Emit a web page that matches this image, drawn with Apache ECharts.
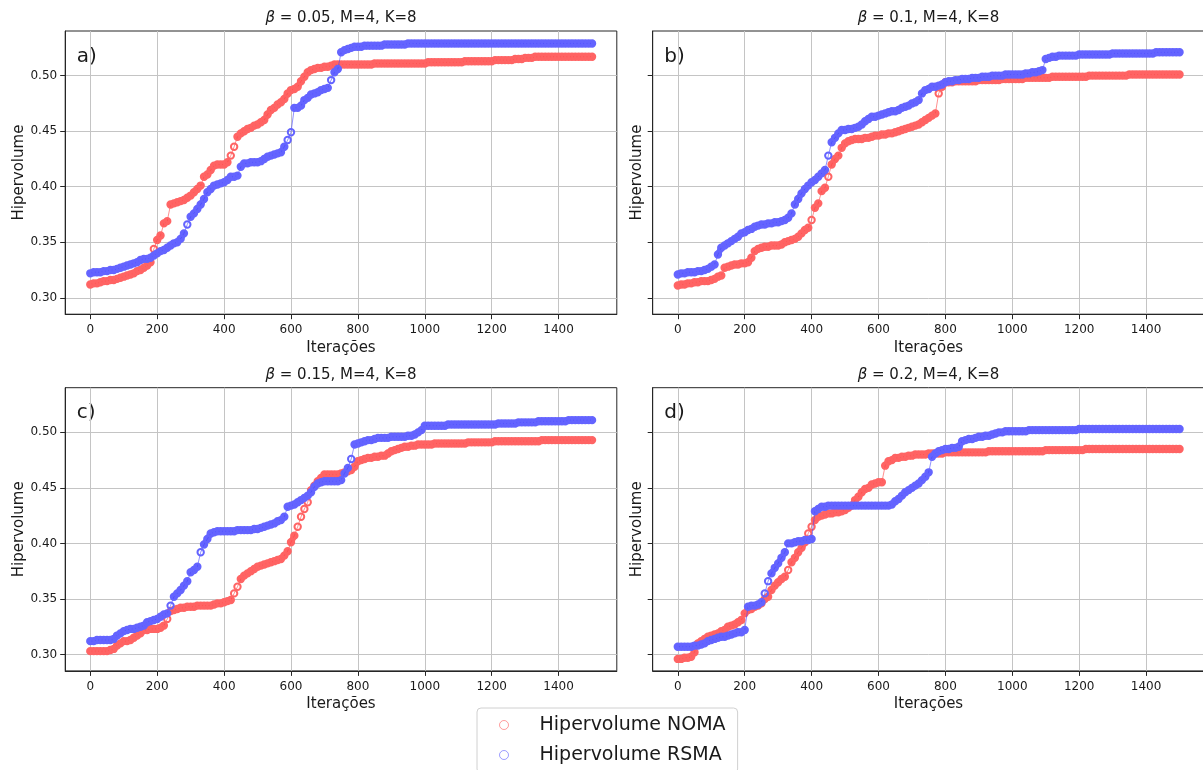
<!DOCTYPE html>
<html>
<head>
<meta charset="utf-8">
<script src="https://cdn.jsdelivr.net/npm/echarts@6/dist/echarts.min.js"></script>
<style>
  html, body { margin: 0; padding: 0; background: #ffffff; }
  #chart { width: 1203px; height: 770px; }
</style>
</head>
<body>
<div id="chart"></div>
<script>
// Hypervolume per iteration, sampled every ITER_STEP iterations (0 .. 1500)
const ITER_STEP = 10;

const xTicks = [0, 200, 400, 600, 800, 1000, 1200, 1400];
const yTicks = [0.30, 0.35, 0.40, 0.45, 0.50];

const betas = ['0.05', '0.1', '0.15', '0.2'];
const panelTags = ['a)', 'b)', 'c)', 'd)'];
const seriesNames = ['Hipervolume NOMA', 'Hipervolume RSMA'];

// beta = 0.05
const noma_b005 = [
  0.312,0.313,0.313,0.314,0.315,0.315,0.316,0.316,0.317,0.318,
  0.319,0.320,0.321,0.322,0.324,0.325,0.327,0.329,0.332,0.344,
  0.352,0.356,0.367,0.369,0.384,0.385,0.386,0.387,0.388,0.390,
  0.392,0.395,0.398,0.401,0.409,0.411,0.415,0.419,0.420,0.420,
  0.420,0.422,0.428,0.436,0.445,0.448,0.450,0.452,0.453,0.455,
  0.456,0.458,0.460,0.465,0.469,0.471,0.474,0.476,0.479,0.484,
  0.487,0.488,0.490,0.495,0.499,0.503,0.505,0.506,0.507,0.507,
  0.508,0.508,0.509,0.510,0.510,0.510,0.510,0.510,0.510,0.510,
  0.510,0.510,0.510,0.510,0.510,0.511,0.511,0.511,0.511,0.511,
  0.511,0.511,0.511,0.511,0.511,0.511,0.511,0.511,0.511,0.511,
  0.511,0.512,0.512,0.512,0.512,0.512,0.512,0.512,0.512,0.512,
  0.512,0.512,0.513,0.513,0.513,0.513,0.513,0.513,0.513,0.513,
  0.513,0.514,0.514,0.514,0.514,0.514,0.514,0.515,0.515,0.515,
  0.516,0.516,0.516,0.517,0.517,0.517,0.517,0.517,0.517,0.517,
  0.517,0.517,0.517,0.517,0.517,0.517,0.517,0.517,0.517,0.517,
  0.517
];
const rsma_b005 = [
  0.322,0.323,0.323,0.323,0.324,0.324,0.325,0.325,0.326,0.327,
  0.328,0.329,0.330,0.331,0.332,0.334,0.335,0.335,0.336,0.338,
  0.340,0.342,0.343,0.345,0.347,0.349,0.350,0.353,0.358,0.366,
  0.373,0.376,0.380,0.384,0.389,0.395,0.398,0.401,0.402,0.403,
  0.404,0.406,0.409,0.409,0.410,0.418,0.421,0.421,0.422,0.422,
  0.422,0.423,0.425,0.427,0.428,0.429,0.430,0.431,0.436,0.442,
  0.449,0.471,0.471,0.473,0.478,0.480,0.483,0.484,0.485,0.487,
  0.488,0.489,0.496,0.503,0.506,0.521,0.523,0.524,0.525,0.526,
  0.526,0.526,0.527,0.527,0.527,0.527,0.527,0.527,0.528,0.528,
  0.528,0.528,0.528,0.528,0.528,0.529,0.529,0.529,0.529,0.529,
  0.529,0.529,0.529,0.529,0.529,0.529,0.529,0.529,0.529,0.529,
  0.529,0.529,0.529,0.529,0.529,0.529,0.529,0.529,0.529,0.529,
  0.529,0.529,0.529,0.529,0.529,0.529,0.529,0.529,0.529,0.529,
  0.529,0.529,0.529,0.529,0.529,0.529,0.529,0.529,0.529,0.529,
  0.529,0.529,0.529,0.529,0.529,0.529,0.529,0.529,0.529,0.529,
  0.529
];

// beta = 0.1
const noma_b010 = [
  0.311,0.312,0.312,0.313,0.313,0.314,0.314,0.315,0.315,0.315,
  0.316,0.317,0.319,0.320,0.327,0.328,0.329,0.330,0.330,0.331,
  0.331,0.332,0.336,0.342,0.344,0.345,0.346,0.346,0.347,0.347,
  0.347,0.348,0.350,0.351,0.352,0.353,0.355,0.358,0.361,0.363,
  0.370,0.381,0.385,0.396,0.399,0.409,0.420,0.425,0.428,0.435,
  0.439,0.441,0.442,0.443,0.443,0.443,0.444,0.444,0.445,0.446,
  0.446,0.447,0.447,0.448,0.448,0.449,0.450,0.451,0.452,0.453,
  0.454,0.455,0.456,0.458,0.460,0.462,0.464,0.466,0.484,0.490,
  0.494,0.494,0.494,0.495,0.495,0.495,0.495,0.495,0.495,0.495,
  0.496,0.496,0.496,0.496,0.496,0.496,0.496,0.497,0.497,0.497,
  0.497,0.497,0.497,0.497,0.498,0.498,0.498,0.498,0.498,0.498,
  0.498,0.498,0.499,0.499,0.499,0.499,0.499,0.499,0.499,0.499,
  0.499,0.499,0.499,0.500,0.500,0.500,0.500,0.500,0.500,0.500,
  0.500,0.500,0.500,0.500,0.500,0.501,0.501,0.501,0.501,0.501,
  0.501,0.501,0.501,0.501,0.501,0.501,0.501,0.501,0.501,0.501,
  0.501
];
const rsma_b010 = [
  0.321,0.322,0.322,0.323,0.323,0.323,0.324,0.324,0.325,0.326,
  0.328,0.330,0.339,0.345,0.347,0.349,0.351,0.353,0.355,0.358,
  0.359,0.361,0.362,0.364,0.365,0.366,0.366,0.367,0.367,0.368,
  0.368,0.369,0.370,0.372,0.376,0.384,0.389,0.394,0.398,0.401,
  0.404,0.406,0.409,0.412,0.415,0.428,0.440,0.444,0.448,0.451,
  0.451,0.452,0.452,0.453,0.454,0.456,0.459,0.461,0.463,0.463,
  0.464,0.465,0.466,0.467,0.468,0.468,0.469,0.471,0.472,0.473,
  0.475,0.476,0.478,0.484,0.487,0.488,0.490,0.490,0.491,0.492,
  0.494,0.495,0.495,0.496,0.496,0.497,0.497,0.497,0.498,0.498,
  0.498,0.499,0.499,0.499,0.500,0.500,0.500,0.500,0.501,0.501,
  0.501,0.501,0.501,0.501,0.502,0.502,0.503,0.503,0.504,0.505,
  0.515,0.516,0.517,0.517,0.518,0.518,0.518,0.518,0.518,0.518,
  0.519,0.519,0.519,0.519,0.519,0.519,0.519,0.519,0.519,0.519,
  0.520,0.520,0.520,0.520,0.520,0.520,0.520,0.520,0.520,0.520,
  0.520,0.520,0.520,0.521,0.521,0.521,0.521,0.521,0.521,0.521,
  0.521
];

// beta = 0.15
const noma_b015 = [
  0.303,0.303,0.303,0.303,0.303,0.303,0.304,0.305,0.308,0.310,
  0.312,0.312,0.313,0.315,0.317,0.319,0.322,0.322,0.323,0.323,
  0.323,0.324,0.326,0.332,0.339,0.340,0.341,0.342,0.342,0.343,
  0.343,0.343,0.344,0.344,0.344,0.344,0.344,0.345,0.346,0.346,
  0.347,0.348,0.349,0.355,0.361,0.368,0.371,0.373,0.375,0.377,
  0.379,0.380,0.381,0.382,0.383,0.384,0.385,0.386,0.389,0.393,
  0.401,0.407,0.415,0.424,0.431,0.437,0.448,0.452,0.456,0.459,
  0.462,0.462,0.462,0.462,0.462,0.463,0.464,0.465,0.466,0.469,
  0.474,0.475,0.476,0.477,0.477,0.478,0.478,0.479,0.479,0.481,
  0.483,0.484,0.485,0.486,0.487,0.487,0.488,0.488,0.489,0.489,
  0.489,0.489,0.489,0.490,0.490,0.490,0.490,0.490,0.490,0.490,
  0.490,0.490,0.490,0.491,0.491,0.491,0.491,0.491,0.491,0.491,
  0.491,0.492,0.492,0.492,0.492,0.492,0.492,0.492,0.492,0.492,
  0.492,0.492,0.492,0.492,0.492,0.493,0.493,0.493,0.493,0.493,
  0.493,0.493,0.493,0.493,0.493,0.493,0.493,0.493,0.493,0.493,
  0.493
];
const rsma_b015 = [
  0.312,0.312,0.313,0.313,0.313,0.313,0.313,0.314,0.317,0.319,
  0.321,0.322,0.323,0.323,0.324,0.325,0.326,0.329,0.330,0.331,
  0.332,0.334,0.336,0.337,0.344,0.352,0.355,0.358,0.362,0.366,
  0.374,0.376,0.379,0.392,0.399,0.404,0.409,0.410,0.411,0.411,
  0.411,0.411,0.411,0.411,0.412,0.412,0.412,0.412,0.412,0.413,
  0.413,0.414,0.415,0.416,0.417,0.418,0.420,0.421,0.424,0.433,
  0.434,0.435,0.437,0.439,0.441,0.443,0.446,0.451,0.454,0.455,
  0.456,0.456,0.456,0.456,0.456,0.457,0.463,0.468,0.476,0.489,
  0.490,0.491,0.492,0.493,0.493,0.494,0.495,0.495,0.495,0.495,
  0.496,0.496,0.496,0.496,0.496,0.497,0.497,0.498,0.500,0.502,
  0.506,0.506,0.506,0.506,0.506,0.506,0.506,0.507,0.507,0.507,
  0.507,0.507,0.507,0.507,0.507,0.507,0.507,0.507,0.507,0.507,
  0.507,0.507,0.508,0.508,0.508,0.508,0.508,0.508,0.509,0.509,
  0.509,0.509,0.509,0.509,0.510,0.510,0.510,0.510,0.510,0.510,
  0.510,0.510,0.510,0.511,0.511,0.511,0.511,0.511,0.511,0.511,
  0.511
];

// beta = 0.2
const noma_b020 = [
  0.296,0.296,0.297,0.297,0.298,0.302,0.310,0.312,0.314,0.316,
  0.317,0.318,0.319,0.321,0.322,0.325,0.326,0.327,0.329,0.331,
  0.337,0.340,0.341,0.343,0.344,0.346,0.350,0.352,0.358,0.362,
  0.365,0.368,0.370,0.376,0.383,0.387,0.392,0.396,0.401,0.409,
  0.415,0.421,0.424,0.425,0.426,0.427,0.427,0.428,0.428,0.429,
  0.430,0.432,0.434,0.439,0.442,0.446,0.449,0.450,0.453,0.454,
  0.455,0.455,0.470,0.474,0.475,0.477,0.477,0.478,0.478,0.479,
  0.479,0.480,0.480,0.480,0.480,0.481,0.481,0.481,0.481,0.481,
  0.482,0.482,0.482,0.482,0.482,0.482,0.482,0.482,0.482,0.482,
  0.482,0.482,0.482,0.483,0.483,0.483,0.483,0.483,0.483,0.483,
  0.483,0.483,0.483,0.483,0.483,0.483,0.483,0.483,0.483,0.483,
  0.484,0.484,0.484,0.484,0.484,0.484,0.484,0.484,0.484,0.484,
  0.484,0.484,0.485,0.485,0.485,0.485,0.485,0.485,0.485,0.485,
  0.485,0.485,0.485,0.485,0.485,0.485,0.485,0.485,0.485,0.485,
  0.485,0.485,0.485,0.485,0.485,0.485,0.485,0.485,0.485,0.485,
  0.485
];
const rsma_b020 = [
  0.307,0.307,0.307,0.307,0.307,0.308,0.308,0.309,0.310,0.312,
  0.313,0.314,0.315,0.316,0.316,0.317,0.318,0.319,0.320,0.320,
  0.322,0.343,0.344,0.344,0.345,0.347,0.355,0.366,0.373,0.378,
  0.382,0.387,0.392,0.400,0.400,0.401,0.402,0.402,0.403,0.403,
  0.404,0.429,0.431,0.433,0.433,0.434,0.434,0.434,0.434,0.434,
  0.434,0.434,0.434,0.434,0.434,0.434,0.434,0.434,0.434,0.434,
  0.434,0.434,0.434,0.434,0.435,0.438,0.440,0.443,0.446,0.448,
  0.450,0.452,0.454,0.457,0.460,0.464,0.478,0.481,0.483,0.484,
  0.485,0.485,0.486,0.486,0.487,0.492,0.493,0.494,0.494,0.495,
  0.496,0.496,0.497,0.497,0.498,0.499,0.500,0.500,0.501,0.501,
  0.501,0.501,0.501,0.501,0.501,0.502,0.502,0.502,0.502,0.502,
  0.502,0.502,0.502,0.502,0.502,0.502,0.502,0.502,0.502,0.502,
  0.503,0.503,0.503,0.503,0.503,0.503,0.503,0.503,0.503,0.503,
  0.503,0.503,0.503,0.503,0.503,0.503,0.503,0.503,0.503,0.503,
  0.503,0.503,0.503,0.503,0.503,0.503,0.503,0.503,0.503,0.503,
  0.503
];

const panelData = [
  [noma_b005, rsma_b005],
  [noma_b010, rsma_b010],
  [noma_b015, rsma_b015],
  [noma_b020, rsma_b020]
];

// layout of the 2x2 panels (pixels)
const FONT = 'DejaVu Sans';
const TEXT = '#1a1a1a';
const colLeft = [65.2, 652.7];
const rowTop = [31, 387.7];
const PW = 551.6, PH = 283.2;
const X_MIN = -75, X_MAX = 1574;
const Y_MIN = 0.2852, Y_MAX = 0.5402;

const ringColors = ['#ff6464', '#6464ff'];
const lineColors = ['rgba(255,70,70,0.6)', 'rgba(70,70,255,0.6)'];
const legendRing = ['rgba(255,0,0,0.38)', 'rgba(0,0,255,0.38)'];
// where consecutive samples jump more than this, the dense band is interrupted
// and only the thin connector line joins the two markers
const BAND_BREAK = 0.006;

function toPoints(vals) {
  return vals.map((v, i) => [i * ITER_STEP, v]);
}
function toBand(vals) {
  const out = [];
  vals.forEach((v, i) => {
    if (i > 0 && Math.abs(v - vals[i - 1]) > BAND_BREAK) {
      out.push([(i - 1) * ITER_STEP, '-']);
    }
    out.push([i * ITER_STEP, v]);
  });
  return out;
}

const grids = [], xAxes = [], yAxes = [], series = [], graphics = [];

for (let p = 0; p < 4; p++) {
  const col = p % 2, row = Math.floor(p / 2);
  const left = colLeft[col], top = rowTop[row];
  grids.push({
    left: left, top: top, width: PW, height: PH,
    show: true, borderColor: '#262626', borderWidth: 1, backgroundColor: '#fff',
    containLabel: false, outerBoundsMode: 'none'
  });
  xAxes.push({
    type: 'value', gridIndex: p, min: X_MIN, max: X_MAX,
    name: 'Iterações', nameLocation: 'middle', nameGap: 26,
    nameTextStyle: { fontFamily: FONT, fontSize: 15, color: TEXT },
    axisLine: { show: true, onZero: false, lineStyle: { color: '#262626', width: 1 } },
    axisTick: { show: true, inside: false, length: 5, customValues: xTicks,
                lineStyle: { color: '#262626', width: 1 } },
    axisLabel: { show: true, customValues: xTicks, margin: 10,
                 fontFamily: FONT, fontSize: 12, color: TEXT,
                 formatter: v => String(Math.round(v)) },
    splitLine: { show: true, lineStyle: { color: '#c4c4c4', width: 1 } }
  });
  yAxes.push({
    type: 'value', gridIndex: p, min: Y_MIN, max: Y_MAX,
    name: 'Hipervolume', nameLocation: 'middle', nameGap: col === 0 ? 39 : 8,
    nameRotate: 90,
    nameTextStyle: { fontFamily: FONT, fontSize: 15, color: TEXT },
    axisLine: { show: true, onZero: false, lineStyle: { color: '#262626', width: 1 } },
    axisTick: { show: true, inside: false, length: 5, customValues: yTicks,
                lineStyle: { color: '#262626', width: 1 } },
    axisLabel: { show: col === 0, customValues: yTicks, margin: 8,
                 fontFamily: FONT, fontSize: 12, color: TEXT,
                 formatter: v => v.toFixed(2) },
    splitLine: { show: true, lineStyle: { color: '#c4c4c4', width: 1 } }
  });

  panelData[p].forEach((vals, k) => {
    // dense band along slowly changing stretches
    series.push({
      name: seriesNames[k], type: 'line', xAxisIndex: p, yAxisIndex: p,
      data: toBand(vals), connectNulls: false,
      symbol: 'none', silent: true,
      lineStyle: { color: ringColors[k], width: 6, cap: 'round', join: 'round' },
      emphasis: { disabled: true },
      z: 2 + k, clip: true
    });
    // open markers joined by a thin line
    series.push({
      name: seriesNames[k], type: 'line', xAxisIndex: p, yAxisIndex: p,
      data: toPoints(vals),
      symbol: 'circle', symbolSize: 6.4, showSymbol: true, showAllSymbol: true,
      itemStyle: { color: 'rgba(0,0,0,0)', borderColor: ringColors[k], borderWidth: 2 },
      lineStyle: { color: lineColors[k], width: 1 },
      emphasis: { disabled: true },
      z: 2 + k, clip: true
    });
  });

  // panel title and tag
  graphics.push({
    type: 'text', x: left + PW / 2, y: top - 13,
    style: {
      text: '{b|β} = ' + betas[p] + ', M=4, K=8',
      fontFamily: FONT, fontSize: 15, fill: TEXT,
      textAlign: 'center', textVerticalAlign: 'middle',
      rich: { b: { fontFamily: FONT, fontSize: 15, fontStyle: 'italic', fill: TEXT } }
    }
  });
  graphics.push({
    type: 'text', x: left + 11.5, y: top + 25.5,
    style: { text: panelTags[p], fontFamily: FONT, fontSize: 20, fill: TEXT,
             textAlign: 'left', textVerticalAlign: 'middle' }
  });
}

const chart = echarts.init(document.getElementById('chart'), null, { renderer: 'canvas' });
chart.setOption({
  animation: false,
  backgroundColor: '#ffffff',
  grid: grids,
  xAxis: xAxes,
  yAxis: yAxes,
  series: series,
  graphic: graphics,
  legend: {
    orient: 'vertical', left: 477, top: 708, height: 120,
    backgroundColor: '#ffffff', borderColor: '#d0d0d0', borderWidth: 1, borderRadius: 4,
    padding: [7, 12, 8, 22], itemGap: 10, itemWidth: 9, itemHeight: 9,
    formatter: name => '{gap|}' + name,
    textStyle: {
      fontFamily: FONT, fontSize: 19, color: TEXT, lineHeight: 20,
      rich: { gap: { width: 26 } }
    },
    data: seriesNames.map((n, k) => ({
      name: n, icon: 'circle',
      itemStyle: { color: 'rgba(0,0,0,0)', borderColor: legendRing[k], borderWidth: 1 }
    }))
  }
});
</script>
</body>
</html>
